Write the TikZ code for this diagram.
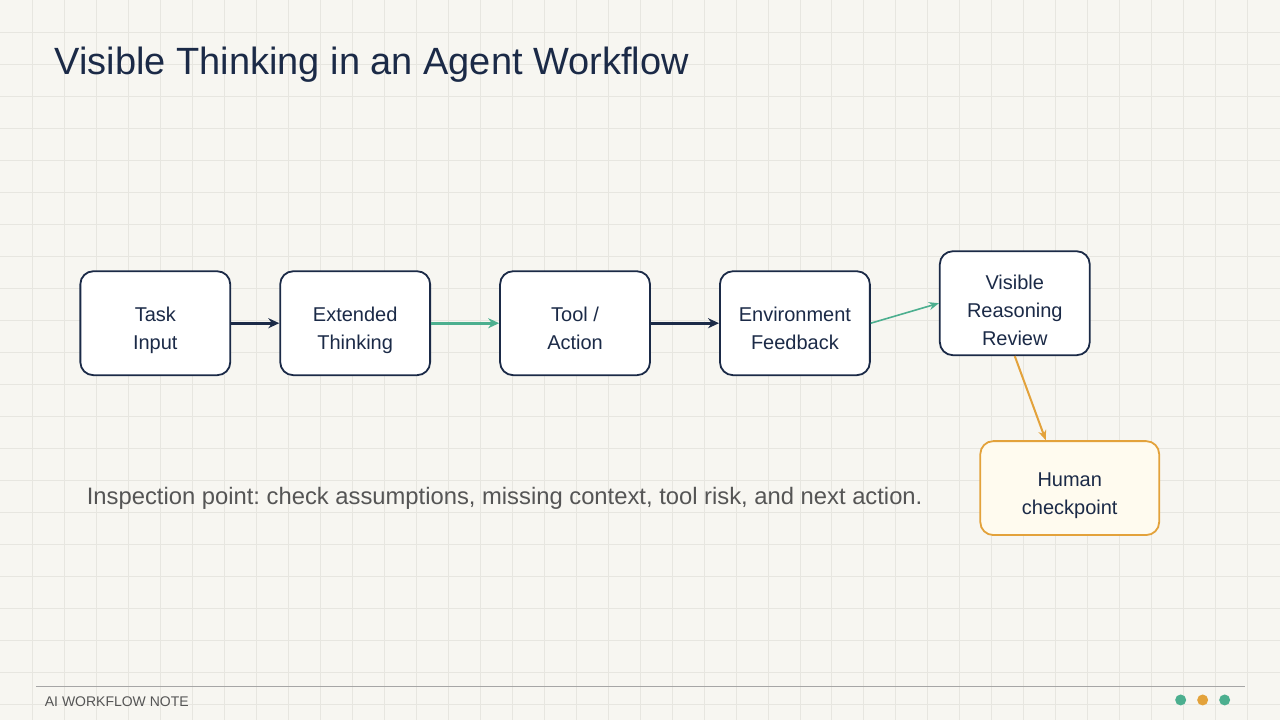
\documentclass[tikz,border=0pt]{standalone}
\usepackage{fontspec}
\setmainfont{Liberation Sans}
\usetikzlibrary{arrows.meta}
\frenchspacing

\definecolor{navy}{HTML}{1B2A47}
\definecolor{teal}{HTML}{4CAF8F}
\definecolor{amber}{HTML}{E3A23B}
\definecolor{paper}{HTML}{F7F6F1}
\definecolor{gridc}{HTML}{E7E6E0}
\definecolor{cream}{HTML}{FFFBEF}
\definecolor{inkgray}{HTML}{555555}

\begin{document}
\begin{tikzpicture}[
    x=1pt, y=-1pt,
    box/.style={rectangle, draw=navy, line width=1.8pt, fill=white, minimum width=150pt, minimum height=104pt, align=center, rounded corners=13pt, text=navy, font=\fontsize{20}{28}\selectfont, text height=57pt, text depth=4pt},
    flow/.style={-{Stealth[length=11pt, width=10pt]}, line width=2.6pt},
    thin flow/.style={-{Stealth[length=10pt, width=8pt]}, line width=1.6pt}
]

% Background and grid
\fill[paper] (0,0) rectangle (1280,720);
\foreach \gx in {32,64,...,1248} \draw[gridc, line width=0.8pt] (\gx,0) -- (\gx,720);
\foreach \gy in {32,64,...,704} \draw[gridc, line width=0.8pt] (0,\gy) -- (1280,\gy);
\useasboundingbox (0,0) rectangle (1280,720);

% Title
\node[anchor=west, text=navy, font=\fontsize{38}{44}\selectfont] (title) at (51,64) {Visible Thinking in an Agent Workflow};

% Main flow
\node[box] (task) at (155,323) {Task\\Input};
\node[box] (think) at (355,323) {Extended\\Thinking};
\node[box] (tool) at (575,323) {Tool /\\Action};
\node[box] (env) at (795,323) {Environment\\Feedback};
\node[box, text height=89pt] (review) at (1015,303) {Visible\\Reasoning\\Review};

% Checkpoint
\node[box, draw=amber, fill=cream, minimum width=179pt, minimum height=94pt, text height=57pt] (human) at (1070,488) {Human\\checkpoint};

% Note
\node[anchor=west, text=inkgray, font=\fontsize{23.8}{28}\selectfont] (note) at (83,498) {Inspection point: check assumptions, missing context, tool risk, and next action.};

% Arrows
\draw[flow, navy] (task) -- (think);
\draw[flow, teal] (think) -- (tool);
\draw[flow, navy] (tool) -- (env);
\draw[thin flow, teal] (env.east) -- (review.west);
\draw[thin flow, amber, line width=2pt] (review.south) -- (human.north -| 1046,0);

% Footer
\draw[gray!70, line width=1pt] (36,687) coordinate (fl) -- (1245,687) coordinate (fr);
\node[anchor=west, text=inkgray, font=\fontsize{14}{16}\selectfont] (footer) at (41,702) {AI WORKFLOW NOTE};
\fill[teal] (1181,700) circle (5.5pt);
\fill[amber] (1203,700) circle (5.5pt);
\fill[teal] (1225,700) circle (5.5pt);

\end{tikzpicture}
\end{document}
